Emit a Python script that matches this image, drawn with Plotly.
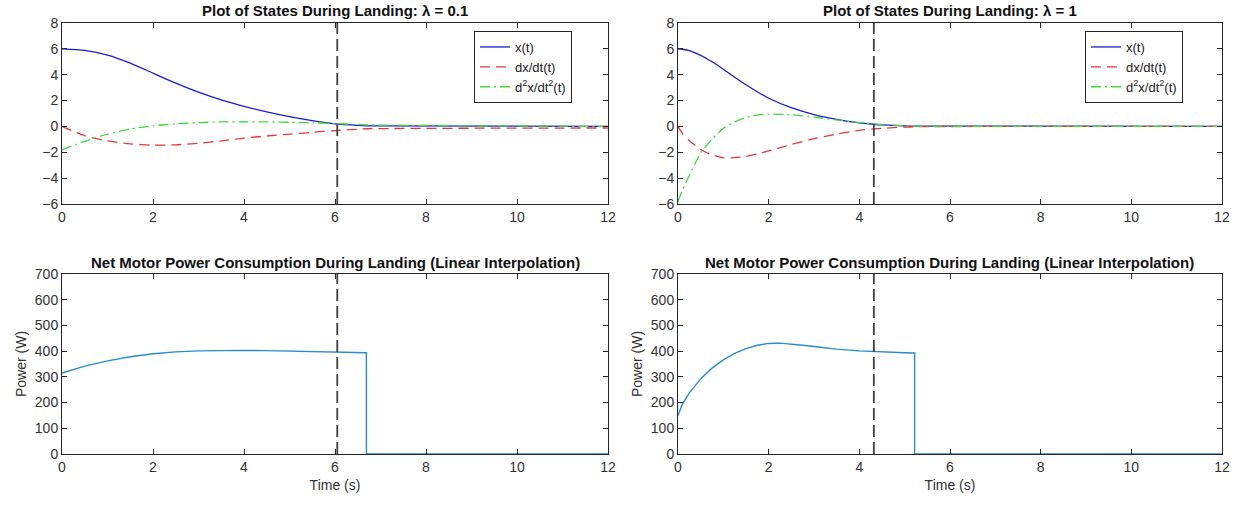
import plotly.graph_objects as go
from plotly.subplots import make_subplots

# ---------------- data ----------------
# lambda = 0.1 (left column)
t_l = [0, 0.5, 1, 1.5, 2, 2.5, 3, 3.5, 4, 4.5, 5, 5.5, 6, 6.5, 6.7, 12]
x_l = [6, 5.88, 5.52, 4.9, 4.12, 3.35, 2.65, 2.05, 1.55, 1.12, 0.75, 0.45, 0.2, 0.08, 0.05, 0]
v_l = [0, -0.72, -1.12, -1.35, -1.45, -1.42, -1.3, -1.12, -0.9, -0.74, -0.6, -0.46, -0.32, -0.22, -0.18, -0.12]
a_l = [-1.8, -1.15, -0.6, -0.2, 0.05, 0.2, 0.3, 0.35, 0.36, 0.35, 0.32, 0.28, 0.22, 0.15, 0.12, 0]

# lambda = 1 (right column)
t_r = [0, 0.1, 0.25, 0.5, 0.75, 1, 1.25, 1.5, 1.75, 2, 2.5, 3, 3.5, 4, 4.32, 4.5, 5, 5.22, 12]
x_r = [6, 5.97, 5.86, 5.5, 5.0, 4.42, 3.8, 3.22, 2.68, 2.18, 1.45, 0.92, 0.55, 0.28, 0.17, 0.12, 0.05, 0.03, 0]
v_r = [0, -0.55, -1.1, -1.78, -2.2, -2.43, -2.42, -2.32, -2.12, -1.9, -1.4, -0.95, -0.6, -0.3, -0.2, -0.15, -0.05, -0.02, 0]
a_r = [-5.8, -4.9, -3.8, -2.05, -1.0, -0.15, 0.35, 0.7, 0.88, 0.95, 0.9, 0.72, 0.5, 0.3, 0.2, 0.15, 0.06, 0.03, 0]

# power, linear interpolation
pt_l = [0, 0.5, 1, 1.5, 2, 2.5, 3, 3.5, 4, 4.5, 5, 5.5, 6, 6.5, 6.69, 6.69, 12]
pw_l = [315, 342, 362, 378, 390, 397, 401, 403, 403, 402, 400, 398, 396, 395, 394, 0, 0]
pt_r = [0, 0.1, 0.25, 0.5, 0.75, 1, 1.25, 1.5, 1.75, 2, 2.25, 2.5, 2.75, 3, 3.5, 4, 4.32, 4.5, 5, 5.22, 5.22, 12]
pw_r = [150, 195, 238, 292, 334, 366, 391, 410, 423, 430, 431, 428, 423, 418, 408, 401, 398, 397, 394, 393, 0, 0]

land_t = [6.05, 4.32]
lambdas = ["0.1", "1"]
series_names = ["x(t)", "dx/dt(t)", "d<sup>2</sup>x/dt<sup>2</sup>(t)"]

# ---------------- styling ----------------
W, H = 1241, 506
def px(v):  # page x pixel -> paper fraction
    return v / W
def py(v):  # page y pixel -> paper fraction
    return 1 - v / H

FONT = "Liberation Sans, Arial, sans-serif"
C_BLUE, C_RED, C_GREEN = "#1c1cd0", "#e23a3a", "#3ddc3d"
C_POW = "#2a8cc8"
AX = "#262626"

fig = make_subplots(rows=2, cols=2)

states = [(t_l, x_l, v_l, a_l), (t_r, x_r, v_r, a_r)]
powers = [(pt_l, pw_l), (pt_r, pw_r)]
legends = ["legend", "legend2"]
for c in range(2):
    t, xs, vs, acc = states[c]
    for ys, name, col, dash in [(xs, series_names[0], C_BLUE, "solid"),
                                (vs, series_names[1], C_RED, "10px,6px"),
                                (acc, series_names[2], C_GREEN, "10px,4px,2px,4px")]:
        fig.add_trace(go.Scatter(x=t, y=ys, mode="lines", name=name,
                                 line=dict(color=col, width=1.3, dash=dash, shape="spline", smoothing=0.6),
                                 legend=legends[c]), row=1, col=c + 1)
    pt, pw = powers[c]
    fig.add_trace(go.Scatter(x=pt, y=pw, mode="lines", showlegend=False,
                             line=dict(color=C_POW, width=1.4)), row=2, col=c + 1)
    for r in (1, 2):
        fig.add_vline(x=land_t[c], row=r, col=c + 1,
                      line=dict(color="#404040", width=1.8, dash="12px,5px"))

# domains (pixel-matched)
xdom = [[px(62), px(608)], [px(678), px(1222)]]
ydom = [[py(204), py(23)], [py(454), py(274)]]

axcommon = dict(showline=True, linecolor=AX, linewidth=1, mirror="ticks", ticks="inside",
                ticklen=5, tickcolor=AX, showgrid=False, zeroline=False, automargin=False,
                tickfont=dict(family=FONT, size=14, color="#333333"))
k = 0
for r in (1, 2):
    for c in (1, 2):
        k += 1
        sx = "xaxis" if k == 1 else f"xaxis{k}"
        sy = "yaxis" if k == 1 else f"yaxis{k}"
        fig.layout[sx].update(domain=xdom[c - 1], range=[0, 12], dtick=2, **axcommon)
        if r == 1:
            fig.layout[sy].update(domain=ydom[0], range=[-6, 8], dtick=2, **axcommon)
        else:
            fig.layout[sy].update(domain=ydom[1], range=[0, 700], dtick=100, **axcommon)
            fig.layout[sx].update(title=dict(text="Time (s)", standoff=6,
                                             font=dict(family=FONT, size=14, color="#333333")))
            fig.layout[sy].update(title=dict(text="Power (W)", standoff=4,
                                             font=dict(family=FONT, size=14, color="#333333")))

# subplot titles
for c in range(2):
    cx = (xdom[c][0] + xdom[c][1]) / 2
    fig.add_annotation(x=cx, y=py(11), xref="paper", yref="paper", showarrow=False,
                       xanchor="center", yanchor="middle",
                       text=f"<b>Plot of States During Landing: λ = {lambdas[c]}</b>",
                       font=dict(family=FONT, size=15, color="#111111"))
    fig.add_annotation(x=cx, y=py(262), xref="paper", yref="paper", showarrow=False,
                       xanchor="center", yanchor="middle",
                       text="<b>Net Motor Power Consumption During Landing (Linear Interpolation)</b>",
                       font=dict(family=FONT, size=15, color="#111111"))

legstyle = dict(xanchor="left", yanchor="top", bgcolor="white", bordercolor=AX, borderwidth=1,
                font=dict(family=FONT, size=13, color="#222222"), tracegroupgap=0)
fig.update_layout(
    width=W, height=H, margin=dict(l=0, r=0, t=0, b=0),
    paper_bgcolor="white", plot_bgcolor="white",
    legend=dict(x=px(474), y=py(31), **legstyle),
    legend2=dict(x=px(1085), y=py(31), **legstyle),
)

# remove the default 8px page margin so the figure fills the window exactly
fig.write_html("out.html", config={"displayModeBar": False},
               post_script="document.body.style.margin='0px';")
